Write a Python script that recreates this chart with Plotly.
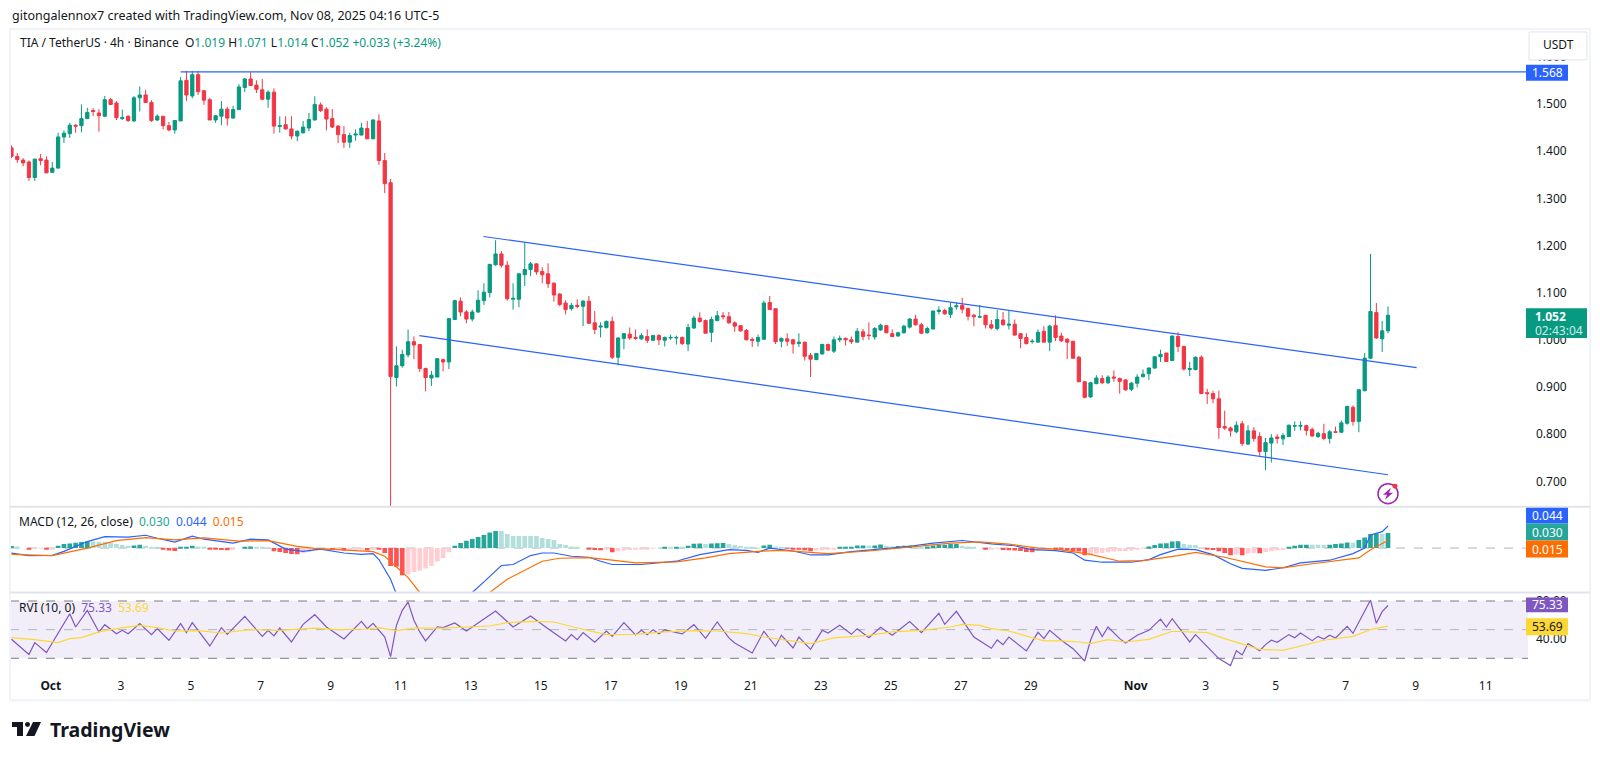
import pandas as pd
import plotly.graph_objects as go

# page is 1600x759 but the browser keeps an 8px body margin
W, H = 1584, 743
PAGE_PAD = 8

# 4h candles
opens = [
    1.407,1.389,1.381,1.377,1.344,1.384,1.381,1.355,1.364,1.430,
    1.437,1.455,1.454,1.469,1.486,1.481,1.474,1.509,1.502,1.469,
    1.474,1.464,1.513,1.519,1.503,1.466,1.474,1.454,1.445,1.464,
    1.550,1.517,1.562,1.528,1.509,1.466,1.474,1.489,1.470,1.488,
    1.535,1.553,1.540,1.530,1.510,1.525,1.452,1.456,1.447,1.432,
    1.439,1.449,1.466,1.498,1.489,1.469,1.453,1.435,1.419,1.434,
    1.434,1.448,1.426,1.464,1.380,1.333,.920,.945,.968,.996,
    .990,.939,.919,.921,.958,.953,1.043,1.082,1.059,1.044,
    1.059,1.083,1.100,1.159,1.182,1.158,1.086,1.086,1.138,1.149,
    1.161,1.145,1.140,1.120,1.097,1.078,1.066,1.073,1.071,1.082,
    1.036,1.027,1.026,1.039,.963,1.003,1.012,1.005,1.002,1.007,
    .999,1.009,.999,1.004,1.004,1.005,.991,1.025,1.046,1.041,
    1.016,1.041,1.051,1.049,1.036,1.030,1.020,1.001,.997,1.001,
    1.079,1.066,.997,1.002,1.000,.992,.995,.967,.958,.970,
    .990,.976,1.000,1.003,1.000,.995,1.017,1.010,1.006,1.021,
    1.030,1.013,1.008,1.015,1.027,1.044,1.032,1.015,1.023,1.060,
    1.062,1.054,1.070,1.073,1.066,1.052,1.048,1.052,1.032,1.024,
    1.042,1.031,1.033,1.013,1.005,.996,.995,1.018,.995,1.030,
    1.008,1.001,.997,.963,.911,.879,.907,.918,.909,.921,
    .918,.915,.895,.908,.922,.928,.940,.964,.972,.956,
    1.007,.986,.937,.937,.963,.888,.886,.875,.816,.813,
    .805,.822,.779,.807,.795,.763,.781,.794,.790,.795,
    .817,.817,.818,.810,.795,.801,.791,.805,.804,.823,
    .857,.827,.892,.961,1.058,1.002,1.019,
]
highs = [
    1.412,1.396,1.385,1.380,1.384,1.394,1.389,1.377,1.439,1.444,
    1.460,1.457,1.499,1.492,1.491,1.489,1.517,1.513,1.506,1.488,
    1.476,1.517,1.537,1.530,1.508,1.478,1.474,1.462,1.465,1.557,
    1.570,1.570,1.570,1.529,1.513,1.476,1.506,1.494,1.496,1.542,
    1.555,1.567,1.550,1.553,1.529,1.533,1.474,1.474,1.474,1.444,
    1.464,1.481,1.516,1.503,1.493,1.489,1.455,1.453,1.439,1.446,
    1.460,1.464,1.468,1.478,1.396,1.341,.986,.979,1.022,1.007,
    .991,.941,.934,.960,.960,1.046,1.085,1.090,1.063,1.064,
    1.105,1.120,1.160,1.211,1.188,1.167,1.120,1.140,1.206,1.165,
    1.162,1.154,1.162,1.122,1.099,1.084,1.078,1.086,1.084,1.093,
    1.061,1.037,1.041,1.049,1.005,1.014,1.026,1.022,1.014,1.022,
    1.010,1.012,1.007,1.011,1.009,1.007,1.034,1.051,1.058,1.043,
    1.049,1.061,1.059,1.059,1.039,1.031,1.023,1.005,1.011,1.083,
    1.093,1.067,1.005,1.014,1.002,1.014,.996,.972,.972,.992,
    .992,1.007,1.009,1.005,1.007,1.025,1.023,1.037,1.027,1.034,
    1.030,1.022,1.017,1.032,1.046,1.053,1.036,1.028,1.062,1.071,
    1.066,1.079,1.079,1.089,1.069,1.055,1.074,1.052,1.042,1.063,
    1.059,1.062,1.043,1.014,1.014,1.002,1.022,1.029,1.032,1.052,
    1.015,1.004,.997,.966,.913,.911,.925,.925,.925,.935,
    .920,.916,.911,.927,.937,.942,.965,.979,.972,1.009,
    1.016,.987,.953,.965,.967,.896,.892,.892,.850,.816,
    .827,.828,.819,.815,.804,.792,.800,.800,.802,.820,
    .827,.827,.820,.814,.805,.822,.809,.816,.829,.859,
    .861,.896,.972,1.182,1.078,1.040,1.071,
]
lows = [
    1.385,1.375,1.368,1.337,1.337,1.370,1.353,1.354,1.363,1.417,
    1.428,1.439,1.440,1.468,1.474,1.441,1.472,1.498,1.466,1.466,
    1.462,1.462,1.484,1.503,1.462,1.464,1.446,1.442,1.437,1.464,
    1.506,1.512,1.519,1.498,1.466,1.460,1.455,1.454,1.469,1.488,
    1.525,1.538,1.523,1.508,1.492,1.437,1.439,1.446,1.425,1.421,
    1.437,1.442,1.465,1.483,1.444,1.449,1.417,1.407,1.407,1.422,
    1.434,1.426,1.426,1.371,1.311,.600,.901,.941,.963,.959,
    .932,.891,.902,.921,.933,.938,1.042,1.050,1.035,1.039,
    1.057,1.074,1.090,1.157,1.153,1.083,1.064,1.069,1.114,1.135,
    1.138,1.120,1.110,1.081,1.071,1.054,1.062,1.067,1.029,1.034,
    1.012,1.005,1.024,.959,.946,.980,1.000,1.000,1.000,.993,
    .997,.989,.986,1.000,.990,.989,.976,1.023,1.036,1.014,
    .995,1.039,1.043,1.034,1.017,1.017,.999,.985,.986,1.000,
    1.064,.991,.984,.987,.971,.985,.956,.921,.957,.969,
    .977,.972,.995,.988,.991,.995,.999,1.000,1.000,1.019,
    1.014,1.005,1.007,1.013,1.024,1.030,1.012,1.013,1.022,1.054,
    1.053,1.046,1.064,1.056,1.041,1.029,1.047,1.024,1.022,1.020,
    1.030,1.022,1.009,.982,.990,.992,.995,.995,.976,.997,
    .995,.959,.960,.911,.876,.877,.906,.906,.906,.911,
    .886,.892,.891,.899,.920,.915,.939,.953,.953,.955,
    .974,.935,.923,.935,.885,.864,.866,.790,.809,.795,
    .802,.775,.777,.784,.754,.724,.740,.780,.777,.794,
    .807,.808,.797,.795,.792,.787,.780,.804,.803,.820,
    .818,.804,.891,.959,1.002,.974,1.014,
]
closes = [
    1.389,1.382,1.375,1.344,1.383,1.380,1.354,1.364,1.430,1.438,
    1.455,1.453,1.469,1.482,1.484,1.475,1.509,1.499,1.471,1.471,
    1.465,1.513,1.519,1.503,1.465,1.474,1.454,1.445,1.465,1.549,
    1.519,1.562,1.526,1.508,1.466,1.475,1.489,1.470,1.488,1.536,
    1.553,1.539,1.531,1.510,1.525,1.453,1.454,1.447,1.432,1.442,
    1.451,1.467,1.499,1.486,1.468,1.451,1.435,1.419,1.433,1.436,
    1.449,1.426,1.466,1.380,1.331,.922,.945,.969,.996,.989,
    .939,.920,.925,.960,.953,1.045,1.083,1.059,1.044,1.059,
    1.084,1.101,1.160,1.182,1.158,1.087,1.088,1.140,1.149,1.161,
    1.144,1.138,1.119,1.095,1.075,1.064,1.073,1.071,1.082,1.035,
    1.022,1.029,1.039,.963,1.004,1.013,1.004,1.003,1.009,.999,
    1.009,1.000,1.005,1.005,1.005,.992,1.026,1.046,1.039,1.014,
    1.043,1.051,1.049,1.036,1.029,1.019,1.000,.999,1.005,1.078,
    1.064,.996,1.003,.997,.991,.995,.965,.959,.971,.990,
    .978,1.000,1.003,1.000,.996,1.018,1.007,1.009,1.024,1.031,
    1.015,1.007,1.015,1.029,1.044,1.032,1.014,1.024,1.061,1.063,
    1.055,1.068,1.072,1.065,1.050,1.049,1.049,1.032,1.025,1.043,
    1.032,1.033,1.010,1.003,.992,.997,1.016,.995,1.029,1.005,
    .998,.995,.961,.911,.878,.909,.919,.909,.921,.919,
    .912,.894,.908,.921,.927,.940,.964,.969,.954,1.008,
    .986,.938,.939,.963,.886,.886,.875,.814,.813,.807,
    .819,.780,.807,.791,.763,.782,.792,.791,.797,.819,
    .818,.818,.808,.796,.802,.791,.805,.804,.824,.859,
    .827,.894,.961,1.060,1.004,1.019,1.052,
]

hist = [
    .004,.003,.000,-.002,-.001,-.001,-.002,-.002,.0046,.008,
    .009,.0105,.012,.013,.013,.0125,.0125,.010,.008,.006,
    .0046,.005,.0065,.0046,.0026,.001,-.003,-.005,-.006,.001,
    .0026,.0046,.003,.002,-.002,-.0026,-.004,-.0046,-.0035,.000,
    .0026,.0033,.002,.001,.0005,-.0066,-.008,-.010,-.012,-.0125,
    -.010,-.008,-.0046,-.002,-.0015,-.004,-.002,-.005,-.003,-.002,
    -.002,-.005,-.002,-.0035,-.010,-.036,-.0375,-.0545,-.053,-.048,
    -.045,-.041,-.036,-.027,-.020,-.0085,.0046,.010,.0145,.018,
    .022,.026,.031,.034,.034,.028,.024,.024,.024,.024,
    .024,.020,.018,.016,.008,.006,.003,.002,.000,-.002,
    -.004,-.0045,-.002,-.0085,-.0065,-.005,-.004,-.003,-.0026,-.0026,
    -.001,.000,.0026,.0026,.0028,.001,.0046,.0085,.009,.008,
    .009,.0095,.010,.008,.006,.004,.0026,.001,.0008,.005,
    .0065,.003,.001,-.001,-.002,-.0026,-.0046,-.0066,-.005,-.0046,
    -.003,-.0013,.0013,.0026,.0028,.005,.0052,.0046,.005,.007,
    .0046,.003,.004,.0046,.005,.003,.002,.003,.005,.0065,
    .0068,.008,.0082,.0046,.003,.001,.000,-.002,-.0018,-.001,
    -.004,-.0042,-.005,-.006,-.008,-.0085,-.0046,-.003,-.002,-.0028,
    -.003,-.005,-.0065,-.007,-.0145,-.013,-.011,-.010,-.0085,-.007,
    -.0065,-.006,-.005,-.002,-.001,.003,.006,.009,.0095,.013,
    .0135,.008,.0065,.0063,.000,-.0013,-.004,-.0065,-.010,-.0145,
    -.013,-.0145,-.011,-.010,-.0105,-.008,-.0065,-.0046,-.002,.002,
    .0046,.0065,.0068,.0066,.0064,.0062,.0065,.008,.009,.011,
    .0108,.016,.021,.028,.029,.0288,.030,
]

# line vertices: candle number, value
macd_i = [0,3,7,9,13,16,20,23,25,28,31,33,38,41,44,47,50,53,57,60,62,63,65,66,68,72,76,79,81,84,86,89,
          91,93,96,99,101,103,108,114,118,123,126,128,130,134,137,140,144,150,154,158,163,168,172,175,179,
          182,184,187,192,195,197,200,203,206,209,211,215,218,221,226,230,232,233,235,236]
macd_v = [-.010,-.015,-.0145,-.0066,.013,.023,.0217,.0256,.0197,.0118,.0237,.0177,.0099,.0177,.0164,-.002,-.0066,-.002,-.0099,-.0125,-.0112,-.023,-.0624,-.092,-.125,-.135,-.105,-.0887,-.0677,-.0348,-.0329,-.015,
          -.0099,-.0099,-.0164,-.0184,-.0263,-.0329,-.0329,-.0263,-.0131,-.0033,-.0046,-.0085,.0,-.0059,-.0138,-.0138,-.0072,.0,.0033,.0099,.0151,.0085,.0046,-.0033,-.0053,
          -.0099,-.0243,-.0283,-.0283,-.023,-.0131,-.002,-.0033,-.0131,-.0315,-.0407,-.0447,-.0394,-.0296,-.0243,-.0112,.0,.0263,.0329,.044]
signal_i = [0,7,13,18,23,28,33,39,44,49,52,58,62,64,68,70,74,78,82,85,89,
            91,94,99,103,107,114,119,123,128,132,140,147,154,161,166,171,176,179,
            185,190,194,200,203,208,215,218,222,227,231,233,236]
signal_v = [-.0125,-.015,.0,.015,.021,.0164,.0204,.0138,.015,.0033,-.0007,-.0046,-.0072,-.0164,-.059,-.0887,-.11,-.105,-.0887,-.0624,-.0375,
            -.0263,-.0204,-.019,-.0243,-.0296,-.0276,-.0197,-.0112,-.0066,-.0046,-.0112,-.0059,.0013,.0099,.0125,.0079,.0,-.002,
            -.0125,-.0263,-.025,-.0151,-.0085,-.0184,-.0375,-.0394,-.0329,-.0263,-.0197,-.0033,.015]

rvi_i = [0,3,4,6,10,11,13,15,16,18,19,20,22,24,25,27,29,30,31,34,36,37,40,43,44,45,46,48,50,52,54,57,60,61,62,64,65,66,67,68,69,70,71,73,74,76,78,83,86,89,
         92,95,96,97,98,100,102,103,105,107,108,109,110,111,112,115,117,119,121,123,124,127,129,131,132,134,135,137,139,140,142,144,145,147,149,151,154,156,159,160,162,165,168,169,170,171,174,176,177,178,180,
         182,184,185,186,187,188,190,191,193,195,197,198,199,202,203,207,209,210,211,212,214,215,216,217,219,220,221,223,224,225,226,227,229,230,233,234,235,236]
rvi_v = [39.9,23.9,36.4,26,66.7,52.8,70.2,47.6,55.2,45.8,49.3,45.8,56.3,44.8,51,38.9,56.3,46.9,57.3,32.9,52.1,45.1,63.9,43,49.3,43.4,51.7,37.1,55.6,65.7,52.8,40.2,58.7,51,56.6,42.3,21.8,54.5,70.2,78.9,59.8,47.6,38.2,52.8,52.1,57,48.6,69.5,52.8,64.3,
         51,38.2,44.8,39.5,46.9,36.8,48.6,43,57.3,44.4,49.3,44.8,50,45.8,49.7,45.5,55.2,40.9,58,41.3,36.1,25.6,48.3,32.6,44.1,30.8,42.3,29.4,49.3,46.5,54.5,45.1,51,41.6,52.4,44.1,58.4,46.9,67.1,55.6,69.2,42.3,30.5,39.2,34.3,42.3,27.7,47.2,40.6,49.3,38.9,
         30.1,17.2,38.9,53.5,42.7,52.8,40.6,36.1,44.1,49.3,61.1,52.8,61.5,37.1,44.8,19.7,12.4,28,23.5,35.4,28,34.3,38.9,36.8,44.8,41.6,46.5,38.5,43,40.2,44.1,41.3,53.5,46.2,81,56.6,68.8,75.33]
rvi_ma_i = [0,4,8,10,12,15,18,22,25,28,32,36,41,46,52,56,61,63,66,69,74,78,82,85,89,
            93,97,102,107,112,117,121,126,129,137,141,147,151,156,161,163,166,168,171,175,177,180,
            183,185,188,191,195,199,205,208,214,218,221,225,230,233,236]
rvi_ma_v = [41.6,39.5,36.4,40.6,41.6,47.6,51,54.5,52.1,48.6,49,46.5,50,49.3,51.7,50,50.7,52.1,49,51.7,51.7,52.8,53.8,57.3,58.7,
            58,51.7,44.8,45.1,47.6,49,48.6,45.8,42.3,35.4,41.3,44.1,47.6,49.3,52.8,55.6,54.5,51,48.6,41.3,38.2,38.2,
            37.1,35.4,39.5,37.1,39.9,48.3,46.9,40.6,29.4,28.4,32.9,38.9,43,50,53.69]

# drawings on the price pane
resistance_price = 1.568
channel_top_t = ["2025-10-13 08:36", "2025-11-09 00:36"]
channel_top_p = [1.219, 0.941]
channel_bot_t = ["2025-10-11 12:42", "2025-11-08 05:00"]
channel_bot_p = [1.009, 0.714]

price_ticks = [0.7, 0.8, 0.9, 1.0, 1.1, 1.2, 1.3, 1.4, 1.5, 1.6]
rvi_ticks = [40, 80]
day_ticks = ["2025-10-01"] + [f"2025-10-{d:02d}" for d in range(3, 31, 2)] + [f"2025-11-{d:02d}" for d in [1, 3, 5, 7, 9, 11]]
day_labels = ["<b>Oct</b>"] + [str(d) for d in range(3, 31, 2)] + ["<b>Nov</b>", "3", "5", "7", "9", "11"]

GREEN = "#089981"
RED = "#F23645"
BLUE = "#2962FF"
ORANGE = "#FF6D00"
PURPLE = "#7E57C2"
YELLOW = "#FDD835"
TEXT = "#131722"
FONT = "Noto Sans"

times = pd.date_range("2025-09-29 21:00", periods=len(opens), freq="4h")
x_start, x_end = "2025-09-29 20:00", "2025-11-12 05:00"


def fx(px):
    return (px - PAGE_PAD) / W


def fy(px):
    return 1 - (px - PAGE_PAD) / H


def path(points):
    return "M " + " L ".join(f"{fx(a)},{fy(b)}" for a, b in points) + " Z"


def hist_color(i):
    prev = hist[i - 1] if i else 0
    if hist[i] >= 0:
        return "#26A69A" if hist[i] > prev else "#B2DFDB"
    return "#FF5252" if hist[i] < prev else "#FFCDD2"


fig = go.Figure()

# ------ price pane
fig.add_trace(go.Candlestick(
    x=times, open=opens, high=highs, low=lows, close=closes,
    increasing=dict(line=dict(color=GREEN, width=1), fillcolor=GREEN),
    decreasing=dict(line=dict(color=RED, width=1), fillcolor=RED),
    whiskerwidth=0, xaxis="x", yaxis="y", showlegend=False,
))
for tt, pp in [([times[29], x_end], [resistance_price] * 2), (channel_top_t, channel_top_p), (channel_bot_t, channel_bot_p)]:
    fig.add_trace(go.Scatter(x=tt, y=pp, mode="lines", line=dict(color=BLUE, width=1.2), xaxis="x", yaxis="y", showlegend=False))

# ------ MACD pane
fig.add_trace(go.Bar(x=times, y=hist, width=4 * 3600 * 1000 * 0.8,
                     marker=dict(color=[hist_color(i) for i in range(len(hist))], line_width=0),
                     xaxis="x2", yaxis="y2", showlegend=False))
fig.add_trace(go.Scatter(x=times[macd_i], y=macd_v, mode="lines", line=dict(color=BLUE, width=1.2), xaxis="x2", yaxis="y2", showlegend=False))
fig.add_trace(go.Scatter(x=times[signal_i], y=signal_v, mode="lines", line=dict(color=ORANGE, width=1.2), xaxis="x2", yaxis="y2", showlegend=False))

# ------ RVI pane
fig.add_trace(go.Scatter(x=times[rvi_i], y=rvi_v, mode="lines", line=dict(color=PURPLE, width=1.2), xaxis="x3", yaxis="y3", showlegend=False))
fig.add_trace(go.Scatter(x=times[rvi_ma_i], y=rvi_ma_v, mode="lines", line=dict(color=YELLOW, width=1.2), xaxis="x3", yaxis="y3", showlegend=False))

dom_x = [fx(10), fx(1528)]
hidden_x = dict(domain=dom_x, range=[x_start, x_end], type="date", showgrid=False, zeroline=False, showticklabels=False, ticks="", showline=False)

shapes = [
    # panel outline and pane separators
    dict(type="rect", xref="paper", yref="paper", x0=fx(10), x1=fx(1590), y0=fy(27), y1=fy(700), line=dict(color="#F0F3FA", width=2)),
    dict(type="line", xref="paper", yref="paper", x0=fx(10), x1=fx(1590), y0=fy(506), y1=fy(506), line=dict(color="#E0E3EB", width=2)),
    dict(type="line", xref="paper", yref="paper", x0=fx(10), x1=fx(1590), y0=fy(592), y1=fy(592), line=dict(color="#E0E3EB", width=2)),
    # macd zero line
    dict(type="line", xref="paper", yref="y2", x0=fx(10), x1=fx(1528), y0=0, y1=0, layer="below", line=dict(color="#B2B5BE", width=1, dash="dash")),
    # rvi band
    dict(type="rect", xref="paper", yref="y3", x0=fx(10), x1=fx(1528), y0=20, y1=80, layer="below", fillcolor="rgba(126,87,194,0.1)", line_width=0),
    dict(type="line", xref="paper", yref="y3", x0=fx(10), x1=fx(1528), y0=80, y1=80, layer="below", line=dict(color="#787B86", width=1, dash="dash")),
    dict(type="line", xref="paper", yref="y3", x0=fx(10), x1=fx(1528), y0=50, y1=50, layer="below", line=dict(color="#B2B5BE", width=1, dash="dash")),
    dict(type="line", xref="paper", yref="y3", x0=fx(10), x1=fx(1528), y0=20, y1=20, layer="below", line=dict(color="#787B86", width=1, dash="dash")),
    # usdt box
    dict(type="rect", xref="paper", yref="paper", x0=fx(1529), x1=fx(1587), y0=fy(30), y1=fy(58), fillcolor="white", line=dict(color="#E0E3EB", width=1)),
    # lightning badge
    dict(type="circle", xref="paper", yref="paper", x0=fx(1378), x1=fx(1398), y0=fy(483), y1=fy(503), line=dict(color="#9C27B0", width=1.5)),
    dict(type="path", xref="paper", yref="paper", path=path([(1391, 487), (1383, 494), (1387, 494), (1385, 499), (1393, 492), (1389, 492)]), fillcolor="#9C27B0", line_width=0),
    dict(type="circle", xref="paper", yref="paper", x0=fx(1392.5), x1=fx(1397.5), y0=fy(483), y1=fy(488), fillcolor=RED, line_width=0),
    # logo
    dict(type="path", xref="paper", yref="paper", path=path([(12, 722), (23, 722), (23, 736), (17, 736), (17, 727), (12, 727)]), fillcolor=TEXT, line_width=0),
    dict(type="circle", xref="paper", yref="paper", x0=fx(25), x1=fx(30), y0=fy(722), y1=fy(727), fillcolor=TEXT, line_width=0),
    dict(type="path", xref="paper", yref="paper", path=path([(33, 722), (41, 722), (34.5, 736), (26, 736)]), fillcolor=TEXT, line_width=0),
]

annotations = []


def label(x, y, text, size=12, color=TEXT, anchor="left"):
    annotations.append(dict(xref="paper", yref="paper", x=fx(x), y=fy(y), text=text, showarrow=False,
                            xanchor=anchor, yanchor="middle", font=dict(size=size, color=color, family=FONT)))


def price_box(y0, y1, fill, text, color="white"):
    shapes.append(dict(type="rect", xref="paper", yref="paper", x0=fx(1526), x1=fx(1568), y0=fy(y0), y1=fy(y1), fillcolor=fill, line_width=0))
    label(1547, (y0 + y1) / 2, text, 12, color, "center")


label(10, 14, "gitongalennox7 created with TradingView.com, Nov 08, 2025 04:16 UTC-5", 12.5)
label(18, 41, f'TIA / TetherUS · 4h · Binance  O<span style="color:{GREEN}">1.019</span> H<span style="color:{GREEN}">1.071</span> L<span style="color:{GREEN}">1.014</span> C<span style="color:{GREEN}">1.052</span> <span style="color:{GREEN}">+0.033 (+3.24%)</span>', 12)
label(17, 521, f'MACD (12, 26, close)  <span style="color:#26A69A">0.030</span>  <span style="color:{BLUE}">0.044</span>  <span style="color:{ORANGE}">0.015</span>', 12)
label(17, 607, f'RVI (10, 0)  <span style="color:{PURPLE}">75.33</span>  <span style="color:{YELLOW}">53.69</span>', 12)
label(1558, 43, "USDT", 12, TEXT, "center")
label(48, 729, "<b>TradingView</b>", 19.5)

price_box(63, 79, BLUE, "1.568")
# the live price tag is wider, it carries the countdown too
shapes.append(dict(type="rect", xref="paper", yref="paper", x0=fx(1526), x1=fx(1587), y0=fy(307), y1=fy(337), fillcolor=GREEN, line_width=0))
label(1533, 315, "<b>1.052</b>", 12, "white")
label(1533, 329, "02:43:04", 12, "#CFEDE7")
price_box(507, 523, BLUE, "0.044")
price_box(523, 540, "#26A69A", "0.030")
price_box(540, 557, ORANGE, "0.015")
price_box(597, 612, PURPLE, "75.33")
price_box(618, 635, YELLOW, "53.69", TEXT)

fig.update_layout(
    width=W, height=H, margin=dict(l=0, r=0, t=0, b=0), paper_bgcolor="white", plot_bgcolor="white",
    font=dict(family=FONT, size=12, color=TEXT), showlegend=False, barmode="overlay", boxgap=0.2,
    shapes=shapes, annotations=annotations,
    xaxis=dict(hidden_x, anchor="y", rangeslider=dict(visible=False)),
    xaxis2=dict(hidden_x, anchor="y2"),
    xaxis3=dict(hidden_x, anchor="y3", showticklabels=True, tickmode="array", tickvals=day_ticks, ticktext=day_labels,
                ticklabelstandoff=9, tickfont=dict(size=12, color=TEXT, family=FONT)),
    yaxis=dict(domain=[fy(506), fy(27)], range=[0.6463, 1.659], side="right", anchor="x", showgrid=False, zeroline=False,
               tickmode="array", tickvals=price_ticks, tickformat=".3f", ticklabelstandoff=7, tickfont=dict(size=12, color=TEXT, family=FONT)),
    yaxis2=dict(domain=[fy(592), fy(508)], range=[-.0887, .0788], side="right", anchor="x2", showgrid=False, zeroline=False, showticklabels=False),
    yaxis3=dict(domain=[fy(668), fy(594)], range=[9.6, 86.9], side="right", anchor="x3", showgrid=False, zeroline=False,
                tickmode="array", tickvals=rvi_ticks, tickformat=".2f", ticklabelstandoff=7, tickfont=dict(size=12, color=TEXT, family=FONT)),
)

fig.write_html("out.html")
